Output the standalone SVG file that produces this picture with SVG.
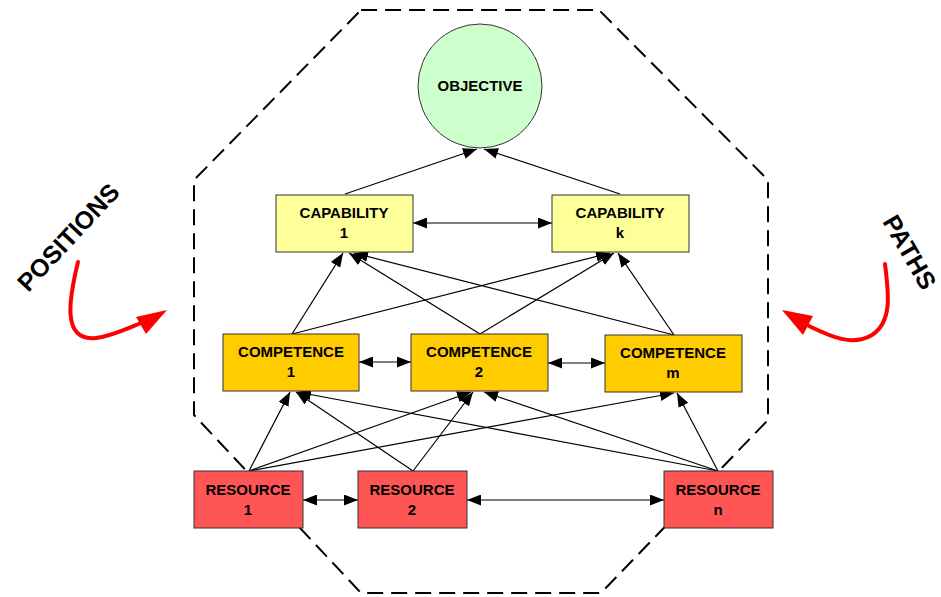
<svg xmlns="http://www.w3.org/2000/svg" width="941" height="597" viewBox="0 0 941 597">
  <style>
    .lbl { font-family: "Liberation Sans", Arial, sans-serif; font-weight: bold; font-size: 15px; fill: #000; text-anchor: middle; }
    .side { font-family: "Liberation Sans", Arial, sans-serif; font-weight: bold; font-size: 25px; fill: #000; text-anchor: middle; dominant-baseline: central; }
    .box { stroke: #333; stroke-width: 1; }
    .cap { fill: #FFFF99; }
    .comp { fill: #FFCC00; }
    .res { fill: #FF5555; }
    .edge { stroke: #000; stroke-width: 1.2; fill: none; marker-end: url(#ah); }
    .both { stroke: #000; stroke-width: 1.2; fill: none; marker-start: url(#ah); marker-end: url(#ah); }
    .hint { stroke: #FF0000; stroke-width: 4; fill: none; stroke-linecap: round; }
  </style>
  <defs>
    <marker id="ah" viewBox="0 0 14 11" refX="14" refY="5.5" markerWidth="14" markerHeight="11" markerUnits="userSpaceOnUse" orient="auto-start-reverse">
      <path d="M0,0 L14,5.5 L0,11 z" fill="#000"/>
    </marker>
  </defs>
  <rect width="941" height="597" fill="#fff"/>

  <!-- dashed octagon boundary -->
  <polygon points="361,10 599,10 768,180 768,420 601,593 361,593 194,415 194,180" fill="none" stroke="#000" stroke-width="2" stroke-dasharray="16 8"/>

  <!-- connectors -->
  <g id="connectors">
    <line class="edge" x1="345" y1="194" x2="477" y2="149"/>
    <line class="edge" x1="620" y1="194" x2="484" y2="149"/>
    <line class="both" x1="413" y1="223" x2="552" y2="223"/>

    <line class="edge" x1="292" y1="334" x2="343" y2="253"/>
    <line class="edge" x1="292" y1="334" x2="610" y2="253"/>
    <line class="edge" x1="480" y1="334" x2="349" y2="253"/>
    <line class="edge" x1="480" y1="334" x2="614" y2="253"/>
    <line class="edge" x1="674" y1="335" x2="354" y2="253"/>
    <line class="edge" x1="674" y1="335" x2="618" y2="253"/>

    <line class="both" x1="359" y1="362" x2="411" y2="362"/>
    <line class="both" x1="548" y1="363" x2="605" y2="363"/>

    <line class="edge" x1="249" y1="471" x2="290" y2="392"/>
    <line class="edge" x1="249" y1="471" x2="471" y2="392"/>
    <line class="edge" x1="249" y1="471" x2="674" y2="393"/>
    <line class="edge" x1="413" y1="471" x2="296" y2="392"/>
    <line class="edge" x1="413" y1="471" x2="473" y2="392"/>
    <line class="edge" x1="718" y1="471" x2="297" y2="392"/>
    <line class="edge" x1="718" y1="471" x2="484" y2="392"/>
    <line class="edge" x1="718" y1="471" x2="677" y2="393"/>

    <line class="both" x1="303" y1="500" x2="358" y2="500"/>
    <line class="both" x1="467" y1="500" x2="664" y2="500"/>
  </g>

  <!-- objective -->
  <g id="objective">
    <ellipse cx="480" cy="86" rx="62" ry="62" fill="#CCFFCC" class="box"/>
    <text class="lbl" x="480" y="91">OBJECTIVE</text>
  </g>

  <!-- capabilities -->
  <g id="capability-1">
    <rect class="box cap" x="276" y="195" width="137" height="57"/>
    <text class="lbl" x="344" y="218">CAPABILITY</text>
    <text class="lbl" x="344" y="238">1</text>
  </g>
  <g id="capability-k">
    <rect class="box cap" x="552" y="195" width="137" height="57"/>
    <text class="lbl" x="620" y="218">CAPABILITY</text>
    <text class="lbl" x="620" y="238">k</text>
  </g>

  <!-- competences -->
  <g id="competence-1">
    <rect class="box comp" x="223" y="334" width="136" height="57"/>
    <text class="lbl" x="291" y="357">COMPETENCE</text>
    <text class="lbl" x="291" y="377">1</text>
  </g>
  <g id="competence-2">
    <rect class="box comp" x="411" y="334" width="137" height="57"/>
    <text class="lbl" x="479" y="357">COMPETENCE</text>
    <text class="lbl" x="479" y="377">2</text>
  </g>
  <g id="competence-m">
    <rect class="box comp" x="605" y="335" width="137" height="57"/>
    <text class="lbl" x="673" y="358">COMPETENCE</text>
    <text class="lbl" x="673" y="378">m</text>
  </g>

  <!-- resources -->
  <g id="resource-1">
    <rect class="box res" x="194" y="471" width="109" height="57"/>
    <text class="lbl" x="248" y="495">RESOURCE</text>
    <text class="lbl" x="248" y="515">1</text>
  </g>
  <g id="resource-2">
    <rect class="box res" x="358" y="471" width="109" height="57"/>
    <text class="lbl" x="412" y="495">RESOURCE</text>
    <text class="lbl" x="412" y="515">2</text>
  </g>
  <g id="resource-n">
    <rect class="box res" x="664" y="471" width="109" height="57"/>
    <text class="lbl" x="718" y="495">RESOURCE</text>
    <text class="lbl" x="718" y="515">n</text>
  </g>

  <!-- side annotations -->
  <g id="positions">
    <text class="side" transform="translate(68,237) rotate(-47)">POSITIONS</text>
    <path class="hint" d="M78,262 C70,295 60,342 96,338 C112,336 126,329 141,323"/>
    <polygon points="167,310 136,317 146,334" fill="#FF0000"/>
  </g>
  <g id="paths">
    <text class="side" transform="translate(910,252) rotate(60)">PATHS</text>
    <path class="hint" d="M885,264 C889,295 892,322 872,335 C852,347 830,336 809,326"/>
    <polygon points="782,310 813,316 803,335" fill="#FF0000"/>
  </g>
</svg>
